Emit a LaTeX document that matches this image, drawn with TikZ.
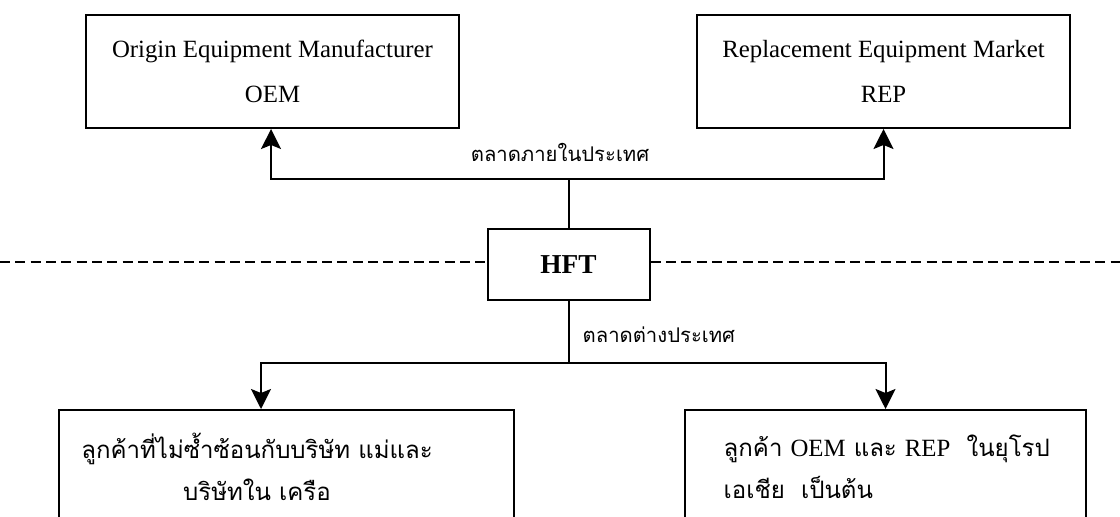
\documentclass[tikz,border=0pt]{standalone}
\usepackage{fontspec}
\setmainfont{Liberation Serif}
\newfontfamily\thai[Script=Thai]{Loma}
\usetikzlibrary{arrows.meta}
\begin{document}
\begin{tikzpicture}[x=0.75pt,y=-0.75pt,
  box/.style={draw, line width=1.5pt, inner sep=0pt},
  conn/.style={line width=1.5pt},
  arr/.style={conn,-{Stealth[length=15pt,width=15pt,inset=3pt]}},
  en/.style={font=\fontsize{18.6}{33.75}\selectfont, align=center},
  th/.style={font=\thai\fontsize{18}{31.5}\selectfont},
  lab/.style={font=\thai\fontsize{15.2}{18}\selectfont},
  sep/.style={line width=1.5pt, dash pattern=on 7.5pt off 4pt}]
\useasboundingbox (0,0) rectangle (1120,517);
\clip (0,0) rectangle (1120,517);
\fill[white] (0,0) rectangle (1120,517);
% boxes
\node[box, en, minimum width=279.75pt, minimum height=84.75pt] (oem) at (272.5,71.5)
  {Origin Equipment Manufacturer\\OEM};
\node[box, en, minimum width=279.75pt, minimum height=84.75pt] (rep) at (883.5,71.5)
  {Replacement Equipment Market\\REP};
\node[box, minimum width=121.5pt, minimum height=53.25pt, font=\fontsize{20.5}{24}\selectfont\bfseries] (hft) at (568.5,264.5) {HFT};
\node[box, anchor=north, minimum width=341.25pt, minimum height=113.25pt] (bl) at (286.5,409) {};
\node[box, anchor=north, minimum width=300.75pt, minimum height=113.25pt] (br) at (885.5,409) {};
% texts in bottom boxes
\node[th, align=center] (blt) at (257,467)
  {ลูกค้าที่ไม่ซ้ำซ้อนกับบริษัท แม่และ\\บริษัทใน เครือ};
\node[th, align=left, anchor=west] (brt) at (719,467)
  {ลูกค้า {\rmfamily\fontsize{18.6}{31.5}\selectfont OEM} และ {\rmfamily\fontsize{18.6}{31.5}\selectfont REP}\ \ ในยุโรป\\เอเชีย\ \ เป็นต้น};
% separator
\draw[sep] (0,262) -- (hft.west |- 0,262);
\draw[sep] (hft.east |- 0,262) -- (1120,262);
% connectors
\coordinate (top) at (568.5,179);
\coordinate (bot) at (568.5,363);
\draw[conn] (hft) -- (top);
\draw[arr] (top) -| ([xshift=-1.1pt]oem.south);
\draw[arr] (top) -| (rep.south);
\draw[conn] (hft) -- (bot);
\draw[arr] (bot) -| ([xshift=152.25pt]bl.north west);
\draw[arr] (bot) -| (br.north);
% labels
\node[lab] (l1) at (560,152) {ตลาดภายในประเทศ};
\node[lab, anchor=west] (l2) at (578,335) {ตลาดต่างประเทศ};
\end{tikzpicture}
\end{document}
